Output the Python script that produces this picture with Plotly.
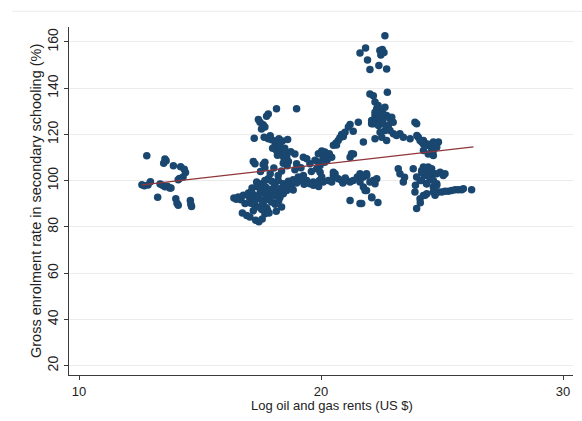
import plotly.graph_objects as go

# Log oil and gas rents (US $) and gross secondary enrolment (%), one pair per observation
rents = [
    12.8, 12.6, 12.7, 12.85, 12.95, 13.35, 13.45, 13.55, 13.65, 13.75, 13.8, 13.55, 13.6, 13.5,
    13.9, 14.2, 14.35, 14.4, 14.3, 14.15, 14.1, 13.25, 14.0, 14.05, 14.1, 14.6, 14.62, 14.65,
    17.27, 17.61, 17.68, 18.44, 18.58, 18.99, 18.92, 19.17, 18.37, 18.23, 17.34, 17.54, 17.68,
    17.82, 17.96, 18.10, 18.23, 18.44, 18.65, 18.85, 19.06, 19.27, 18.78, 16.58, 16.69, 16.79,
    17.0, 17.13, 17.24, 17.30, 17.41, 17.49, 17.57, 17.68, 17.79, 17.85, 17.96, 18.10, 18.23,
    18.30, 18.44, 18.58, 18.72, 18.99, 19.17, 16.86, 17.10, 17.27, 17.43, 17.61, 17.75, 17.96,
    18.10, 18.37, 16.93, 17.06, 17.30, 17.43, 17.57, 17.68, 17.79, 16.4, 16.5, 16.75, 17.85, 18.15,
    18.16, 18.99, 17.82, 17.75, 17.41, 17.48, 17.61, 17.68, 17.54, 17.24, 17.65, 17.82, 17.96,
    18.10, 18.26, 18.40, 18.62, 18.10, 18.23, 18.34, 18.44, 18.51, 18.40, 18.58, 18.48, 18.65,
    18.92, 19.27, 17.2, 17.68, 18.30, 18.16, 18.2, 18.0, 17.9, 18.5, 18.75, 18.6, 17.5, 17.9, 18.05,
    17.15, 17.35, 17.5, 17.72, 17.9, 18.05, 18.35, 18.55, 18.85, 17.05, 17.2, 17.55, 18.25,
    21.54, 21.20, 21.13, 21.33, 20.99, 20.85, 20.92, 20.78, 20.71, 20.62, 20.51, 20.64, 21.75,
    22.09, 22.23, 21.26, 19.41, 19.54, 19.75, 19.89, 20.03, 20.16, 20.34, 20.44, 20.09, 19.89,
    19.96, 19.82, 19.96, 20.03, 20.09, 19.93, 19.13, 19.41, 19.68, 20.30, 20.51, 20.71, 20.85,
    21.06, 21.20, 21.33, 21.50, 21.88, 22.30, 20.44, 21.61, 19.68, 19.54, 21.75, 21.88, 22.09,
    21.20, 21.61, 20.51, 20.58, 20.2, 20.25, 19.6, 20.9, 21.0, 19.3, 19.9, 20.6, 20.15, 21.2, 21.34,
    22.64, 21.84, 21.61, 22.43, 22.53, 22.60, 22.47, 21.92, 22.39, 22.02, 22.71, 22.02, 22.16,
    22.74, 22.23, 22.36, 22.30, 22.50, 22.64, 22.43, 22.71, 22.23, 22.57, 22.85, 22.09, 22.36,
    22.98, 23.88, 22.23, 22.37, 22.57, 22.92, 22.44, 22.16, 22.37, 22.57, 22.78, 22.85, 22.99,
    23.12, 23.26, 23.40, 23.68, 23.95, 24.02, 24.16, 24.36, 24.50, 24.57, 24.71, 24.78, 24.85,
    22.23, 22.51, 22.71, 22.44, 22.64, 21.61, 21.75, 21.89, 22.02, 22.23, 22.16, 21.82, 21.68,
    23.19, 23.26, 23.40, 23.81, 23.95, 24.16, 24.30, 24.43, 24.50, 24.36, 24.09, 24.64, 24.78,
    23.88, 24.09, 24.30, 24.71, 24.23, 23.45, 23.9, 22.35, 22.1, 23.96, 24.23,
    24.09, 24.23, 24.37, 24.57, 24.64, 24.71, 24.78, 24.64, 24.43, 24.23, 24.64, 24.16, 24.30,
    24.43, 24.57, 24.23, 24.37, 24.64, 24.50, 24.78, 24.92, 25.05, 25.12, 24.64, 24.37, 24.78,
    24.16, 24.64, 24.85, 24.99, 25.12, 25.26, 25.40, 25.54, 25.67, 25.81, 25.88, 26.22, 24.23,
    24.37, 23.95, 24.1,
]
enrolment = [
    110.8, 98.3, 97.8, 98.2, 99.6, 98.6, 98.0, 97.4, 97.6, 96.9, 96.9, 109.4, 108.6, 107.6,
    106.5, 106.0, 105.0, 103.6, 101.6, 101.0, 100.4, 92.9, 92.2, 90.3, 89.4, 91.5, 89.8, 88.9,
    107.3, 107.0, 105.6, 107.6, 108.3, 107.3, 104.7, 105.6, 104.2, 102.3, 99.4, 98.7, 100.1,
    100.9, 99.8, 98.0, 100.1, 98.7, 99.8, 100.4, 101.6, 102.3, 98.0, 93.0, 91.8, 93.7,
    94.7, 95.5, 93.7, 91.8, 93.2, 95.1, 91.5, 94.4, 92.7, 91.8, 94.4, 93.5, 95.1,
    92.7, 94.4, 95.8, 97.0, 99.0, 100.1, 90.1, 90.3, 89.3, 88.6, 90.1, 88.3, 90.8,
    89.8, 88.6, 85.0, 84.3, 82.9, 82.3, 83.4, 85.7, 87.2, 92.5, 92.0, 86.0, 86.0, 86.8,
    131.1, 131.1, 128.9, 127.9, 126.5, 125.3, 124.2, 123.2, 122.4, 118.4, 118.8, 118.1, 117.7,
    117.2, 118.1, 117.2, 117.8, 115.2, 114.5, 113.8, 112.7, 111.6, 110.9, 110.2, 109.2, 108.3,
    111.6, 110.2, 108.3, 108.0, 116.0, 113.1, 111.0, 114.0, 119.5, 114.0, 112.5, 106.5, 104.0, 103.0, 105.5,
    96.8, 97.5, 96.5, 97.2, 96.2, 96.9, 96.6, 97.4, 96.0, 92.6, 87.0, 87.5, 91.3,
    125.3, 124.3, 123.2, 121.4, 121.0, 120.0, 119.1, 118.6, 117.4, 116.3, 115.3, 115.4, 116.7,
    124.6, 126.0, 111.7, 109.5, 107.3, 108.8, 111.7, 112.8, 112.4, 111.7, 110.2, 110.2, 108.1,
    106.6, 105.2, 103.7, 101.6, 99.4, 100.1, 100.9, 100.1, 99.4, 100.1, 102.3, 100.9, 100.1,
    100.1, 99.4, 100.1, 101.6, 103.0, 100.9, 99.4, 99.4, 98.0, 98.7, 97.3, 95.8, 93.0,
    91.5, 90.1, 103.7, 103.0, 111.0, 109.0, 104.0, 99.0, 101.2, 98.5, 97.5, 101.5, 108.0, 110.2, 111.6,
    162.7, 157.4, 155.2, 156.3, 156.7, 155.5, 154.4, 152.2, 149.8, 148.1, 148.3, 137.5, 136.8,
    138.3, 134.0, 132.5, 131.1, 130.3, 131.8, 128.9, 128.2, 128.2, 126.8, 126.8, 126.0, 125.3,
    125.3, 125.3, 129.6, 128.9, 128.9, 127.5, 126.8, 124.6, 123.9, 124.6, 123.9, 121.7, 120.3,
    119.6, 120.3, 118.8, 118.1, 124.6, 118.8, 116.7, 116.0, 115.3, 113.8, 114.5, 116.0, 116.7,
    118.1, 118.8, 117.4, 121.0, 121.7, 103.0, 101.6, 102.3, 99.4, 98.7, 100.1, 95.8, 90.1,
    105.2, 103.0, 99.4, 105.2, 101.6, 103.7, 103.0, 104.5, 100.9, 98.7, 100.1, 97.3, 98.7,
    95.1, 92.2, 93.7, 93.7, 105.9, 101.5, 98.0, 90.6, 92.6, 119.6, 117.4,
    117.4, 115.9, 115.2, 115.9, 116.7, 115.2, 114.5, 113.1, 111.6, 113.1, 110.9, 104.4, 105.2,
    105.9, 105.2, 103.0, 102.3, 103.0, 103.7, 103.0, 103.7, 102.3, 103.0, 100.1, 98.7, 98.0,
    100.1, 95.1, 95.1, 95.1, 95.5, 95.5, 95.8, 96.1, 96.1, 96.1, 96.5, 96.1, 93.6,
    94.4, 88.0, 90.5,
]

# Linear fit of enrolment on rents, evaluated at the ends of the observed range
fit_rents = [12.6, 26.3]
fit_enrolment = [98.2, 114.6]

x_ticks = [10, 20, 30]
y_ticks = [20, 40, 60, 80, 100, 120, 140, 160]

FONT = "Liberation Sans, Arial, sans-serif"
AXIS = "#3a3a3a"

fig = go.Figure()
fig.add_trace(go.Scatter(
    x=rents, y=enrolment, mode="markers",
    marker=dict(size=7.5, color="#1a476f", line=dict(width=0)),
    showlegend=False, hoverinfo="skip",
))
fig.add_trace(go.Scatter(
    x=fit_rents, y=fit_enrolment, mode="lines",
    line=dict(color="#90353b", width=1.3),
    showlegend=False, hoverinfo="skip",
))

fig.update_layout(
    width=582, height=421,
    margin=dict(l=69, r=9, t=27, b=46),
    paper_bgcolor="white", plot_bgcolor="white",
    font=dict(family=FONT, size=13, color="#222222"),
    xaxis=dict(
        range=[9.587, 30.41], tickvals=x_ticks, ticks="outside", ticklen=4,
        tickcolor=AXIS, showline=True, linecolor=AXIS, linewidth=1,
        showgrid=False, zeroline=False, tickfont=dict(size=13),
    ),
    yaxis=dict(
        range=[15.98, 166.48], tickvals=y_ticks, ticks="outside", ticklen=4,
        tickcolor=AXIS, showline=True, linecolor=AXIS, linewidth=1,
        showgrid=True, gridcolor="#ebebeb", gridwidth=1, zeroline=False,
        tickangle=-90, tickfont=dict(size=14), ticklabelstandoff=0,
    ),
    annotations=[
        dict(text="Log oil and gas rents (US $)", xref="paper", yref="paper",
             x=0.522, y=-0.089, xanchor="center", yanchor="middle",
             showarrow=False, font=dict(size=13)),
        dict(text="Gross enrolment rate in secondary schooling (%)", xref="paper", yref="paper",
             x=-0.0655, y=0.5, xanchor="center", yanchor="middle", textangle=-90,
             showarrow=False, font=dict(size=14.5)),
    ],
    shapes=[
        dict(type="line", xref="paper", yref="paper", x0=-0.113, x1=1.02,
             y0=1.0451, y1=1.0451, line=dict(color="#ececec", width=1)),
    ],
)

fig.write_html("out.html")
